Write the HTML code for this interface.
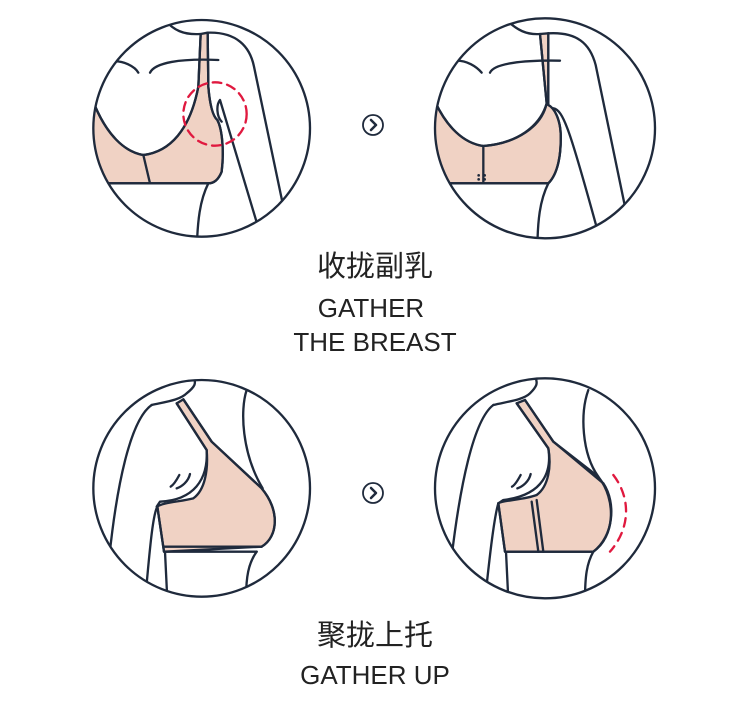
<!DOCTYPE html>
<html><head><meta charset="utf-8"><style>
html,body{margin:0;padding:0;background:#fff;}
svg{display:block}
.t{font-family:"Liberation Sans","Noto Sans CJK SC",sans-serif;fill:#222;text-anchor:middle}
</style></head><body>
<svg width="750" height="714" viewBox="0 0 750 714" xmlns="http://www.w3.org/2000/svg">
<defs>
<clipPath id="c1"><circle cx="365" cy="325" r="325"/></clipPath>
<clipPath id="c2"><circle cx="345" cy="325" r="330"/></clipPath>
<clipPath id="c3"><circle cx="365" cy="355" r="325"/></clipPath>
<clipPath id="c4"><circle cx="345" cy="355" r="330"/></clipPath>
</defs>
<g fill="none" stroke="#1f2a3c" stroke-width="7" stroke-linecap="round" stroke-linejoin="round">

<!-- Top-left -->
<g transform="translate(80,20) scale(0.33333)">
<g clip-path="url(#c1)">
<path d="M0,240 L45,258 C80,340 130,395 190,405 C270,395 330,330 355,200 L362,42 L383,38 L385,200 C390,260 400,290 412,300 C428,330 432,400 425,455 C415,480 400,490 385,490 L0,490 Z" fill="#f0d2c4"/>
<path d="M45,258 C80,340 130,395 190,405 C270,395 330,330 355,200 L362,42"/>
<path d="M383,38 L385,200 C390,260 400,290 412,300 C428,330 432,400 425,455 C415,480 400,490 385,490 L0,490"/>
<path d="M190,405 L210,490"/>
<path d="M385,490 C360,540 352,600 350,700"/>
<path d="M255,0 C280,30 310,45 360,42"/>
<path d="M95,125 C130,120 165,140 175,158"/>
<path d="M210,158 C225,128 300,115 415,120"/>
<path d="M383,38 C470,35 510,80 522,140 L610,560"/>
<path d="M425,305 C410,290 408,255 420,240 L540,640"/>
</g>
<circle cx="365" cy="325" r="325"/>
<circle cx="405" cy="282" r="95" stroke="#e0193f" stroke-width="7" stroke-dasharray="26,18"/>
</g>

<!-- Top-right -->
<g transform="translate(430,20) scale(0.33333)">
<g clip-path="url(#c2)">
<path d="M0,240 L15,245 C50,320 100,370 160,378 C260,370 330,320 350,250 L330,42 L355,40 L355,255 C375,265 390,300 392,340 C394,400 385,460 355,490 L0,490 Z" fill="#f0d2c4"/>
<path d="M15,245 C50,320 100,370 160,378 C260,370 335,320 350,250 L330,42"/>
<path d="M355,40 L355,255 C375,265 390,300 392,340 C394,400 385,460 355,490 L0,490"/>
<path d="M160,378 L160,490"/>
<path d="M355,490 C330,540 322,600 322,700"/>
<path d="M230,0 C260,30 290,45 330,42"/>
<path d="M75,122 C110,120 140,140 155,158"/>
<path d="M180,158 C192,130 280,120 390,122"/>
<path d="M355,40 C440,35 480,70 497,135 L585,560"/>
<path d="M370,265 C400,270 420,330 505,640"/>
</g>
<g stroke="none" fill="#1f2a3c"><circle cx="146" cy="466" r="4"/><circle cx="146" cy="478" r="4"/><circle cx="164" cy="466" r="4"/><circle cx="164" cy="478" r="4"/></g>
<circle cx="345" cy="325" r="330"/>
</g>

<!-- Bottom-left -->
<g transform="translate(80,370) scale(0.33333)">
<g clip-path="url(#c3)">
<path d="M290,100 L310,88 L395,215 L545,355 C600,420 595,500 545,530 L252,545 L232,410 C245,398 300,395 340,385 C375,360 385,300 380,240 Z" fill="#f0d2c4"/>
<path d="M290,100 L380,240 C385,330 340,390 240,395 L230,410"/>
<path d="M310,88 L395,215 L545,355 C600,420 595,500 545,530"/>
<path d="M232,410 L252,545 L530,545"/>
<path d="M252,530 L545,530"/>
<path d="M215,105 C260,95 300,90 320,70 C345,50 350,40 340,20"/>
<path d="M215,105 C150,150 110,350 88,560"/>
<path d="M232,410 C215,440 205,600 195,690"/>
<path d="M500,60 C480,120 485,250 548,355"/>
<path d="M255,545 L262,690"/>
<path d="M530,545 C505,580 498,620 498,690"/>
<path d="M298,315 C290,330 280,345 272,350"/>
<path d="M330,312 C325,335 305,350 290,355"/>
</g>
<circle cx="365" cy="355" r="325"/>
</g>

<!-- Bottom-right -->
<g transform="translate(430,370) scale(0.33333)">
<g clip-path="url(#c4)">
<path d="M260,100 L285,90 L370,215 L520,340 C560,400 550,500 490,545 L225,545 L205,400 C220,390 280,390 320,375 C355,350 365,290 355,235 Z" fill="#f0d2c4"/>
<path d="M260,100 L355,235 C365,300 345,375 220,390 L205,400"/>
<path d="M285,90 L370,215 L505,320 C560,390 555,500 490,545"/>
<path d="M205,400 L225,545 L490,545"/>
<path d="M305,395 L325,545"/>
<path d="M320,390 L340,545"/>
<path d="M190,105 C230,95 280,90 300,70 C320,50 325,40 315,20"/>
<path d="M190,105 C130,150 90,350 65,560"/>
<path d="M205,400 C190,450 175,600 165,690"/>
<path d="M475,60 C450,130 455,250 505,320"/>
<path d="M228,545 L235,690"/>
<path d="M490,545 C470,580 465,620 465,690"/>
<path d="M272,315 C264,330 255,345 246,350"/>
<path d="M302,312 C297,335 277,350 262,355"/>
</g>
<circle cx="345" cy="355" r="330"/>
<path d="M550,315 C600,380 605,470 540,545" stroke="#e0193f" stroke-dasharray="26,20"/>
</g>

<!-- arrows -->
<circle cx="373" cy="125" r="10" stroke-width="1.8"/>
<path d="M371,120 L376,125 L371,130" stroke-width="2.5"/>
<circle cx="373" cy="493" r="10" stroke-width="1.8"/>
<path d="M371,488 L376,493 L371,498" stroke-width="2.5"/>
</g>

<text class="t" x="375" y="276" font-size="29">收拢副乳</text>
<text class="t" x="371" y="317" font-size="26">GATHER</text>
<text class="t" x="375" y="351" font-size="26">THE BREAST</text>
<text class="t" x="375" y="645" font-size="29">聚拢上托</text>
<text class="t" x="375" y="684" font-size="26">GATHER UP</text>
</svg>
</body></html>
